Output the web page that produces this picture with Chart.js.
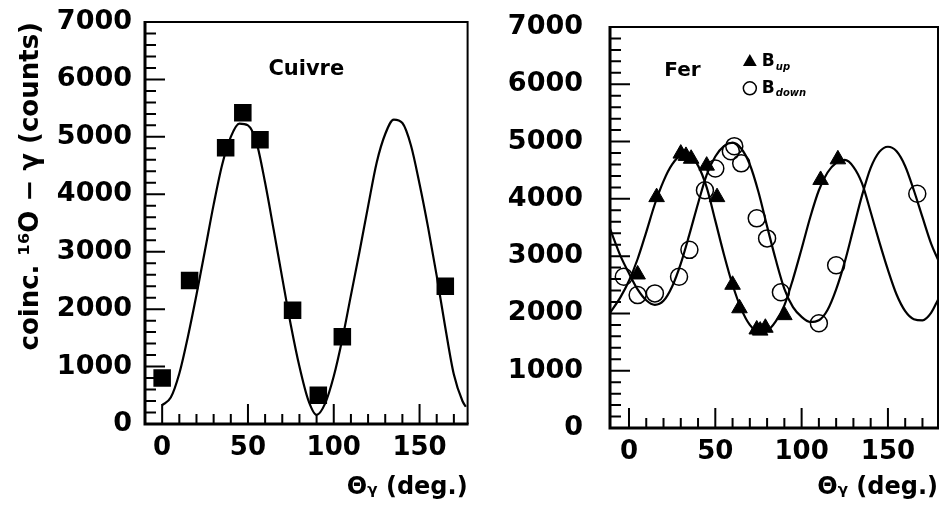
<!DOCTYPE html>
<html>
<head>
<meta charset="utf-8">
<script src="https://cdn.jsdelivr.net/npm/chart.js@4.4.0/dist/chart.umd.min.js"></script>
<style>
  html, body { margin: 0; padding: 0; background: #fff; }
  #wrap { position: relative; width: 948px; height: 515px; overflow: hidden; }
  .panel { position: absolute; top: 0; height: 515px; }
  #left { left: 0; width: 480px; }
  #right { left: 480px; width: 468px; }
</style>
</head>
<body>
<div id="wrap">
  <div class="panel" id="left"><canvas id="cuChart"></canvas></div>
  <div class="panel" id="right"><canvas id="feChart"></canvas></div>
</div>
<script>
// tick labels
const xTicks = [0, 50, 100, 150]
const yTicks = [0, 1000, 2000, 3000, 4000, 5000, 6000, 7000]

// Cuivre - measured points
const cuTheta = [0, 16, 37, 47, 57, 76, 91, 105, 165]
const cuCounts = [800, 2500, 4810, 5420, 4950, 1980, 500, 1520, 2400]

// Cuivre - fit curve
const cuFitTheta = [0, 5, 10, 15, 20, 25, 30, 35, 40, 45, 50, 55, 60, 65, 70, 75, 80, 85, 90,
    95, 100, 105, 110, 115, 120, 125, 130, 135, 140, 145, 150, 155, 160, 165, 170, 175, 177]
const cuFitCounts = [330, 460, 880, 1520, 2250, 3030, 3820, 4520, 5000, 5230, 5200, 4900, 4200, 3380, 2540, 1720, 1000, 430, 160,
    360, 830, 1480, 2240, 3000, 3790, 4550, 5050, 5300, 5240, 4850, 4180, 3420, 2580, 1680, 860, 400, 300]

// Fer - B up (triangles)
const upTheta = [5, 16, 30, 33, 36, 45, 51, 60, 64, 74, 76, 79, 90, 111, 121]
const upCounts = [2680, 4030, 4790, 4750, 4700, 4580, 4030, 2500, 2090, 1720, 1700, 1750, 1970, 4330, 4690]

// Fer - B down (circles)
const downTheta = [-3, 5, 15, 29, 35, 44, 50, 59, 61, 65, 74, 80, 88, 110, 120, 167]
const downCounts = [2640, 2320, 2350, 2640, 3110, 4150, 4530, 4830, 4920, 4620, 3660, 3310, 2370, 1830, 2840, 4090]

// Fer - fit curves
const feFitTheta = [-11, -5, 0, 5, 10, 15, 20, 25, 30, 35, 40, 45, 50, 55, 60, 65, 70, 75, 80, 85, 90,
    95, 100, 105, 110, 115, 120, 125, 130, 135, 140, 145, 150, 155, 160, 165, 170, 175, 179]
const upFitCounts = [2010, 2280, 2570, 2950, 3420, 3910, 4310, 4600, 4750, 4740, 4580, 4200, 3620, 3030, 2500, 2080, 1800, 1680, 1700, 1860, 2140,
    2600, 3130, 3680, 4150, 4460, 4630, 4680, 4560, 4270, 3770, 3250, 2760, 2330, 2040, 1900, 1880, 2010, 2240]
const downFitCounts = [3480, 3010, 2700, 2420, 2230, 2150, 2220, 2470, 2870, 3380, 3920, 4420, 4740, 4920, 4980, 4880, 4600, 4120, 3520, 2940, 2430,
    2110, 1940, 1850, 1880, 2060, 2420, 2900, 3480, 4060, 4540, 4820, 4910, 4830, 4570, 4150, 3680, 3220, 2940]

const FONT = "'DejaVu Sans', sans-serif"
const toXY = (xs, ys) => xs.map((x, i) => ({ x: x, y: ys[i] }))

// inward ticks and the box around the plot
const frameTicks = {
    id: 'frameTicks',
    afterDraw(chart) {
        const { ctx, chartArea: a, scales: { x, y } } = chart
        ctx.save()
        ctx.strokeStyle = '#000'
        ctx.lineWidth = 2
        ctx.beginPath()
        for (let v = 200; v < y.max; v += 200) {
            const py = y.getPixelForValue(v)
            const len = v % 1000 === 0 ? 20 : 11
            ctx.moveTo(a.left, py)
            ctx.lineTo(a.left + len, py)
        }
        for (let v = Math.ceil(x.min / 10) * 10; v < x.max; v += 10) {
            const px = x.getPixelForValue(v)
            if (px - a.left < 3) continue
            const len = v % 50 === 0 ? 20 : 10
            ctx.moveTo(px, a.bottom)
            ctx.lineTo(px, a.bottom - len)
        }
        ctx.stroke()

        ctx.lineWidth = 2
        ctx.beginPath()
        ctx.moveTo(a.left, a.top)
        ctx.lineTo(a.right, a.top)
        ctx.lineTo(a.right, a.bottom)
        ctx.stroke()
        ctx.lineWidth = 3
        ctx.beginPath()
        ctx.moveTo(a.left, a.top - 1)
        ctx.lineTo(a.left, a.bottom)
        ctx.lineTo(a.right + 1, a.bottom)
        ctx.stroke()
        ctx.restore()
    }
}

// labels written inside the plot
const notes = {
    id: 'notes',
    afterDraw(chart, args, opts) {
        const { ctx, scales: { x, y } } = chart
        ctx.save()
        ctx.fillStyle = '#000'
        ctx.strokeStyle = '#000';
        (opts.items || []).forEach((n) => {
            const px = x.getPixelForValue(n.x)
            const py = y.getPixelForValue(n.y)
            if (n.marker === 'triangle') {
                const r = 8
                ctx.beginPath()
                ctx.moveTo(px, py - r)
                ctx.lineTo(px + r * 0.866, py + r / 2)
                ctx.lineTo(px - r * 0.866, py + r / 2)
                ctx.closePath()
                ctx.fill()
            } else if (n.marker === 'circle') {
                ctx.lineWidth = 1.5
                ctx.beginPath()
                ctx.arc(px, py, 6.5, 0, Math.PI * 2)
                ctx.stroke()
            }
            ctx.textBaseline = 'middle'
            if (n.text) {
                ctx.font = 'bold ' + n.size + 'px ' + FONT
                ctx.textAlign = n.align || 'left'
                const tx = px + (n.dx || 0)
                ctx.fillText(n.text, tx, py)
                if (n.sub) {
                    const w = ctx.measureText(n.text).width
                    ctx.font = 'italic bold 10px ' + FONT
                    ctx.textAlign = 'left'
                    ctx.fillText(n.sub, tx + w + 1, py + 5)
                }
            }
        })
        ctx.restore()
    }
}

const noPad = (s) => {
    s.paddingTop = 0
    s.paddingBottom = 0
    s.paddingLeft = 0
    s.paddingRight = 0
}

const makeOptions = (cfg) => ({
    responsive: true,
    maintainAspectRatio: false,
    animation: false,
    layout: { padding: { top: cfg.top, right: cfg.right, left: 0, bottom: 0 } },
    plugins: {
        legend: { display: false },
        tooltip: { enabled: false },
        notes: { items: cfg.notes }
    },
    scales: {
        x: {
            type: 'linear',
            min: cfg.xMin,
            max: cfg.xMax,
            afterBuildTicks: (s) => { s.ticks = xTicks.map((v) => ({ value: v })) },
            afterFit: (s) => { s.height = cfg.xHeight; noPad(s) },
            grid: { display: false, drawTicks: false },
            border: { display: false },
            ticks: {
                autoSkip: false, maxRotation: 0, padding: 9, color: '#000',
                font: { family: FONT, size: 26, weight: 'bold' },
                callback: (v) => String(v)
            },
            title: {
                display: true,
                text: 'Θᵧ (deg.)',
                align: 'end',
                color: '#000',
                font: { family: FONT, size: 24, weight: 'bold' },
                padding: { top: 0, bottom: 13 }
            }
        },
        y: {
            type: 'linear',
            min: 0,
            max: 7000,
            afterBuildTicks: (s) => { s.ticks = yTicks.map((v) => ({ value: v })) },
            afterFit: (s) => { s.width = cfg.yWidth; noPad(s) },
            grid: { display: false, drawTicks: false },
            border: { display: false },
            ticks: {
                autoSkip: false, padding: cfg.yPad, color: '#000',
                font: { family: FONT, size: 27, weight: 'bold' },
                callback: (v) => String(v)
            },
            title: {
                display: cfg.yTitle !== undefined,
                text: cfg.yTitle || '',
                align: 'end',
                color: '#000',
                font: { family: FONT, size: 26, weight: 'bold' },
                padding: { top: 16, bottom: 0 }
            }
        }
    }
})

const curve = (pts) => ({
    data: pts,
    showLine: true,
    pointRadius: 0,
    borderColor: '#000',
    borderWidth: 2.2,
    cubicInterpolationMode: 'monotone',
    fill: false
})

new Chart(document.getElementById('cuChart'), {
    type: 'scatter',
    data: {
        datasets: [
            {
                data: toXY(cuTheta, cuCounts),
                pointStyle: 'rect',
                pointRadius: 12.4,
                backgroundColor: '#000',
                borderColor: '#000',
                borderWidth: 0
            },
            curve(toXY(cuFitTheta, cuFitCounts))
        ]
    },
    options: makeOptions({
        top: 22, right: 3, xMin: -10, xMax: 178, xHeight: 91, yWidth: 145, yPad: 13,
        yTitle: 'coinc. ¹⁶O − γ (counts)',
        notes: [{ x: 84, y: 6170, text: 'Cuivre', size: 21, align: 'center' }]
    }),
    plugins: [frameTicks, notes]
})

new Chart(document.getElementById('feChart'), {
    type: 'scatter',
    data: {
        datasets: [
            {
                data: toXY(upTheta, upCounts),
                pointStyle: 'triangle',
                pointRadius: 9,
                backgroundColor: '#000',
                borderColor: '#000',
                borderWidth: 1
            },
            {
                data: toXY(downTheta, downCounts),
                pointStyle: 'circle',
                pointRadius: 8.5,
                backgroundColor: 'rgba(0,0,0,0)',
                borderColor: '#000',
                borderWidth: 1.5
            },
            curve(toXY(feFitTheta, upFitCounts)),
            curve(toXY(feFitTheta, downFitCounts))
        ]
    },
    options: makeOptions({
        top: 27, right: 2, xMin: -11, xMax: 179, xHeight: 87, yWidth: 130, yPad: 27,
        notes: [
            { x: 31, y: 6230, text: 'Fer', size: 20, align: 'center' },
            { x: 70, y: 6390, marker: 'triangle', text: 'B', sub: 'up', size: 17, dx: 12 },
            { x: 70, y: 5930, marker: 'circle', text: 'B', sub: 'down', size: 17, dx: 12 }
        ]
    }),
    plugins: [frameTicks, notes]
})
</script>
</body>
</html>
